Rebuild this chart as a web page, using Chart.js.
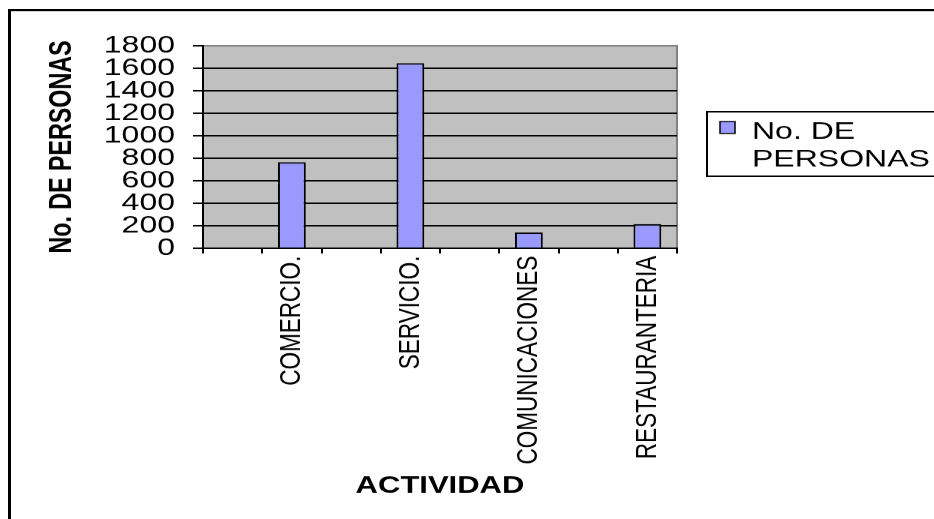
<!DOCTYPE html>
<html>
<head>
<meta charset="utf-8">
<script src="https://cdn.jsdelivr.net/npm/chart.js@4/dist/chart.umd.min.js"></script>
<style>
  html, body { margin: 0; padding: 0; background: #fff; overflow: hidden; }
  /* the reference is squashed vertically, so the whole canvas is drawn tall and scaled down */
  #chart { display: block; transform: scaleY(0.75); transform-origin: 0 0; }
</style>
</head>
<body>
<canvas id="chart" width="934" height="692"></canvas>
<script>
// ====================== datos ======================
const categorias = ['', 'COMERCIO.', '', 'SERVICIO.', '', 'COMUNICACIONES', '', 'RESTAURANTERIA'];
const personas = [null, 765, null, 1645, null, 140, null, 215];
const serieNombre = 'No. DE PERSONAS';
const leyendaLineas = ['No. DE', 'PERSONAS'];
const yMin = 0;
const yMax = 1800;
const yPaso = 200;

const FONT = '"Liberation Sans", Arial, sans-serif';

// fondo gris del area de trazado + marco exterior
const fondoPlugin = {
  id: 'fondo',
  beforeDraw(chart) {
    const { ctx, chartArea: a } = chart;
    ctx.save();
    ctx.fillStyle = '#fff';
    ctx.fillRect(0, 0, chart.width, chart.height);
    ctx.strokeStyle = '#000';
    ctx.lineWidth = 3;
    ctx.strokeRect(9.5, 13.5, 2000, 2000);
    ctx.fillStyle = '#c0c0c0';
    ctx.fillRect(a.left, a.top, a.right - a.left, a.bottom - a.top);
    ctx.strokeStyle = '#808080';
    ctx.lineWidth = 2;
    ctx.beginPath();
    ctx.moveTo(a.left, a.top);
    ctx.lineTo(a.right, a.top);
    ctx.lineTo(a.right, a.bottom);
    ctx.stroke();
    ctx.restore();
  }
};

// leyenda a la derecha, en dos lineas
const leyendaPlugin = {
  id: 'leyenda',
  afterDraw(chart) {
    const { ctx } = chart;
    const ds = chart.data.datasets[0];
    ctx.save();
    ctx.strokeStyle = '#000';
    ctx.lineWidth = 2;
    ctx.strokeRect(707, 149, 400, 86);
    ctx.fillStyle = ds.backgroundColor;
    ctx.fillRect(720, 162, 15, 16);
    ctx.lineWidth = 1.5;
    ctx.strokeRect(720, 162, 15, 16);
    ctx.fillStyle = '#000';
    ctx.font = '32px ' + FONT;
    ctx.textBaseline = 'middle';
    leyendaLineas.forEach((t, i) => ctx.fillText(t, 752, 176 + i * 37));
    ctx.restore();
  }
};

new Chart(document.getElementById('chart'), {
  type: 'bar',
  data: {
    labels: categorias,
    datasets: [{
      label: serieNombre,
      data: personas,
      backgroundColor: '#9999ff',
      borderColor: '#000',
      borderWidth: 2,
      categoryPercentage: 1,
      barPercentage: 0.47
    }]
  },
  options: {
    responsive: false,
    animation: false,
    devicePixelRatio: 1,
    layout: { padding: { left: 35, top: 61, right: 257, bottom: 0 } },
    plugins: {
      legend: { display: false },
      tooltip: { enabled: false }
    },
    scales: {
      y: {
        min: yMin,
        max: yMax,
        afterFit: s => { s.width = 168; },
        ticks: {
          stepSize: yPaso,
          autoSkip: false,
          callback: v => String(v),
          color: '#000',
          padding: 18,
          font: { family: FONT, size: 32 }
        },
        grid: {
          color: c => (c.tick && c.tick.value === yMax ? '#808080' : '#000'),
          tickColor: '#000',
          lineWidth: 2,
          tickLength: 10
        },
        border: { color: '#000', width: 2 },
        title: {
          display: true,
          text: serieNombre,
          color: '#000',
          padding: { top: 9, bottom: 0 },
          font: { family: FONT, size: 31, weight: 'bold' }
        }
      },
      x: {
        afterFit: s => { s.height = 361; },
        ticks: {
          autoSkip: false,
          minRotation: 90,
          maxRotation: 90,
          color: '#000',
          padding: 3,
          font: { family: FONT, size: 30 }
        },
        grid: {
          offset: true,
          drawOnChartArea: false,
          color: '#000',
          lineWidth: 2,
          tickLength: 7
        },
        border: { color: '#000', width: 2 },
        title: {
          display: true,
          text: 'ACTIVIDAD',
          color: '#000',
          padding: { top: 0, bottom: 25 },
          font: { family: FONT, size: 31, weight: 'bold' }
        }
      }
    }
  },
  plugins: [fondoPlugin, leyendaPlugin]
});
</script>
</body>
</html>
